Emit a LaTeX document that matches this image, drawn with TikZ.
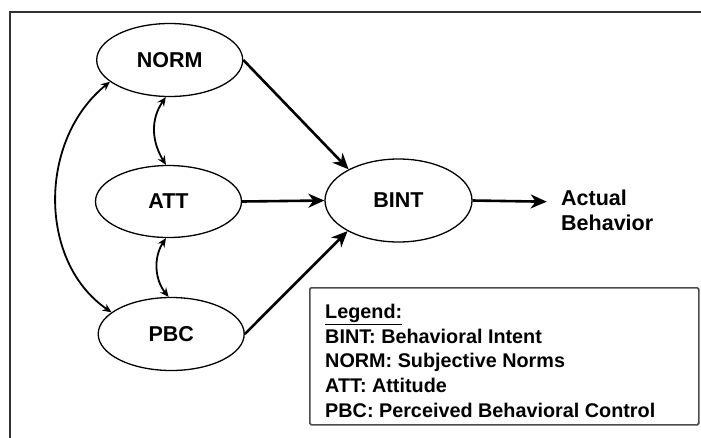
\documentclass[tikz,border=0pt]{standalone}
\usepackage{fontspec}
\setmainfont{Liberation Sans}
\usetikzlibrary{arrows.meta,calc,shapes.geometric}
\begin{document}
\begin{tikzpicture}[x=1pt,y=-1pt,
  ell/.style={draw, ellipse, line width=1.3pt, inner sep=0pt,
    font=\fontsize{21.5}{25}\selectfont\bfseries},
  mainarrow/.style={line width=2.6pt, -{Stealth[length=16pt,width=14pt,inset=5pt]}},
  corr/.style={line width=1.8pt, {Stealth[length=9pt,width=8pt,inset=3pt]}-{Stealth[length=9pt,width=8pt,inset=3pt]}},
  lbl/.style={inner sep=0pt, align=left, font=\fontsize{21.5}{25}\selectfont\bfseries},
  legtext/.style={inner sep=0pt, align=left, font=\fontsize{19.8}{24.7}\selectfont\bfseries}
]
\useasboundingbox (0,0) rectangle (701,437);
% outer frame (only left and top visible)
\draw[line width=1.8pt, black!80] (10,445) -- (10,12) -- (710,12);

\node[ell, minimum width=146pt, minimum height=73pt] (NORM) at (169.7,60) {NORM};
\node[ell, minimum width=146pt, minimum height=72pt] (ATT)  at (168.5,201.5) {ATT};
\node[ell, minimum width=146pt, minimum height=73pt] (PBC)  at (171.2,334) {PBC};
\node[ell, minimum width=147pt, minimum height=83pt] (BINT) at (398.5,200.5) {BINT};

\coordinate (act) at (546.7,201.7);
\node[lbl, anchor=west] (actual) at (561,210) {Actual\\Behavior};

\draw[mainarrow] (NORM.east) -- (BINT.148);
\draw[mainarrow] (ATT.east) -- (BINT.west);
\draw[mainarrow] (PBC.east) -- (BINT.211);
\draw[mainarrow] (BINT.east) -- (act);

% correlations
\draw[corr] (NORM.264) .. controls (150,120) and (152,142) .. (ATT.94);
\draw[corr] (ATT.266) .. controls (153,258) and (155,280) .. (PBC.94);
\draw[corr] (NORM.200) .. controls (38,140) and (38,262) .. (PBC.160);

% legend
\node[draw, line width=1.6pt, draw=black!70, rounded corners=1.5pt,
  minimum width=389pt, minimum height=137pt, anchor=north west, inner sep=0pt] (legendbox) at (309,287) {};
\node[legtext, anchor=north west] (legend) at ($(legendbox.north west)+(16,17)$)
  {\underline{Legend:}\\BINT: Behavioral Intent\\NORM: Subjective Norms\\ATT: Attitude\\PBC: Perceived Behavioral Control};
\end{tikzpicture}
\end{document}
